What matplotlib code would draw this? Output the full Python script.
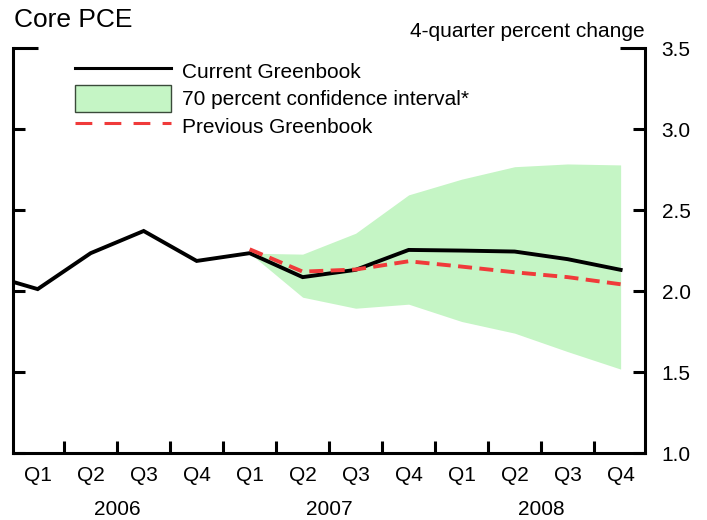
import matplotlib
matplotlib.use("Agg")
import matplotlib.pyplot as plt
from matplotlib.patches import Patch
from matplotlib.lines import Line2D
from matplotlib.ticker import FixedLocator, FixedFormatter
import matplotlib.transforms as mtransforms

plt.rcParams['font.family'] = ['Liberation Sans', 'DejaVu Sans']

# ---- data ----
quarter_labels = ["Q1", "Q2", "Q3", "Q4"] * 3
years = ["2006", "2007", "2008"]
year_pos = [1.5, 5.5, 9.5]

# current Greenbook, from 2005Q4 (index -1) through 2008Q4 (index 11)
current_x = list(range(-1, 12))
current = [2.11, 2.014, 2.236, 2.373, 2.188, 2.236, 2.088, 2.133, 2.256, 2.252, 2.246, 2.199, 2.133]

# previous Greenbook, 2007Q1 .. 2008Q4
prev_x = list(range(4, 12))
previous = [2.26, 2.122, 2.135, 2.186, 2.153, 2.118, 2.088, 2.044]

# 70 percent confidence interval, 2007Q1 .. 2008Q4
band_x = list(range(4, 12))
band_lower = [2.236, 1.964, 1.896, 1.921, 1.814, 1.742, 1.628, 1.52]
band_upper = [2.236, 2.230, 2.359, 2.596, 2.693, 2.770, 2.787, 2.781]

yticks_major = [1.0, 1.5, 2.0, 2.5, 3.0]
ytick_top = [3.5]

# ---- styles ----
W, H = 707, 520
green = "#C5F5C5"
red = "#F03A3A"
spine_w = 2.2
fs = 15

fig = plt.figure(figsize=(W / 100, H / 100), dpi=100)
left, right, top, bottom = 13.3, 645.0, 48.5, 453.3
ax = fig.add_axes([left / W, (H - bottom) / H, (right - left) / W, (bottom - top) / H])

ax.fill_between(band_x, band_lower, band_upper, color=green, linewidth=0, zorder=1)
ax.plot(current_x, current, color="black", linewidth=2.8, zorder=3, solid_joinstyle="miter")
ax.plot(prev_x, previous, color=red, linewidth=2.8, dashes=(3.6, 1.9), zorder=4)

ax.set_xlim(-0.46, 11.46)
ax.set_ylim(1.0, 3.5)

# spines
ax.spines['top'].set_visible(False)
for s in ['left', 'right', 'bottom']:
    ax.spines[s].set_linewidth(spine_w)
    ax.spines[s].set_capstyle('projecting')

# y ticks
ax.yaxis.set_major_locator(FixedLocator(yticks_major))
ax.yaxis.set_major_formatter(FixedFormatter([f"{v:.1f}" for v in yticks_major]))
ax.yaxis.set_minor_locator(FixedLocator(ytick_top))
ax.yaxis.set_minor_formatter(FixedFormatter([f"{v:.1f}" for v in ytick_top]))
ax.tick_params(axis='y', which='major', direction='in', length=8.6, width=spine_w,
               left=True, right=True, labelleft=False, labelright=True,
               labelsize=fs, pad=12)
ax.tick_params(axis='y', which='minor', direction='in', length=18, width=spine_w,
               left=True, right=True, labelleft=False, labelright=True,
               labelsize=fs, pad=12)

# x ticks
ax.xaxis.set_major_locator(FixedLocator(list(range(12))))
ax.xaxis.set_major_formatter(FixedFormatter(quarter_labels))
ax.xaxis.set_minor_locator(FixedLocator([i + 0.5 for i in range(11)]))
ax.tick_params(axis='x', which='major', length=0, labelsize=fs, pad=9)
ax.tick_params(axis='x', which='minor', direction='in', length=8.6, width=spine_w)

# year labels
trans = mtransforms.blended_transform_factory(ax.transData, fig.transFigure)
for yp, yl in zip(year_pos, years):
    ax.text(yp, (H - 515) / H, yl, transform=trans, ha='center', va='baseline', fontsize=fs)

# titles
fig.text(14 / W, 1 - 26.7 / H, "Core PCE", fontsize=19, ha='left', va='baseline')
fig.text(645 / W, 1 - 36.7 / H, "4-quarter percent change", fontsize=fs, ha='right', va='baseline')

# legend
handles = [
    Line2D([], [], color="black", linewidth=2.2),
    Patch(facecolor=green, edgecolor="#3A4A3A", linewidth=1.0),
    Line2D([], [], color=red, linewidth=2.2, dashes=(5.5, 4)),
]
labels = ["Current Greenbook", "70 percent confidence interval*", "Previous Greenbook"]
leg = ax.legend(handles, labels, loc='upper left',
                bbox_to_anchor=(75 / W, 1 - 57.5 / H), bbox_transform=fig.transFigure,
                frameon=False, borderpad=0, borderaxespad=0, fontsize=fs,
                handlelength=4.61, handleheight=1.65, handletextpad=0.51, labelspacing=0)

fig.savefig("out.png", dpi=100)
